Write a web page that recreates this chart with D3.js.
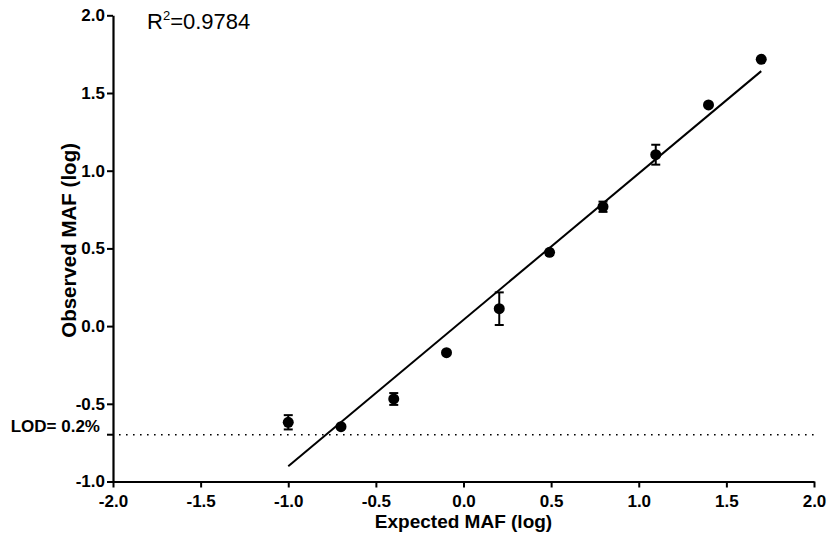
<!DOCTYPE html>
<html>
<head>
<meta charset="utf-8">
<script src="https://cdn.jsdelivr.net/npm/d3@7"></script>
<style>
  html, body { margin: 0; padding: 0; background: #fff; }
  svg { display: block; }
  text { font-family: "Liberation Sans", Arial, Helvetica, sans-serif; fill: #000; }
</style>
</head>
<body>
<svg id="chart" width="830" height="542"></svg>
<script>
// Expected vs. observed mutant allele fraction (log10 scale)
const expectedMAF = [-1.0, -0.699, -0.398, -0.097, 0.204, 0.491, 0.796, 1.097, 1.398, 1.699];
const observedMAF = [-0.619, -0.647, -0.469, -0.171, 0.112, 0.475, 0.768, 1.103, 1.423, 1.717];
const observedErr = [0.046, 0, 0.038, 0, 0.105, 0, 0.033, 0.064, 0, 0];

const xTicks = [-2.0, -1.5, -1.0, -0.5, 0.0, 0.5, 1.0, 1.5, 2.0];
const xTickLabels = ["-2.0", "-1.5", "-1.0", "-0.5", "0.0", "0.5", "1.0", "1.5", "2.0"];
const yTicks = [-1.0, -0.5, 0.0, 0.5, 1.0, 1.5, 2.0];
const yTickLabels = ["-1.0", "-0.5", "0.0", "0.5", "1.0", "1.5", "2.0"];

const lodValue = Math.log10(0.2);   // limit of detection, 0.2 %
const lodLabel = "LOD= 0.2%";
const r2Value = "0.9784";

const svg = d3.select("#chart");

const x = d3.scaleLinear().domain([-2, 2]).range([113, 814]);
const y = d3.scaleLinear().domain([-1, 2]).range([481.5, 15.3]);

// least-squares fit through the points
const mx = d3.mean(expectedMAF), my = d3.mean(observedMAF);
let sxy = 0, sxx = 0;
expectedMAF.forEach((v, i) => { sxy += (v - mx) * (observedMAF[i] - my); sxx += (v - mx) * (v - mx); });
const slope = sxy / sxx, intercept = my - slope * mx;
const fitX = d3.extent(expectedMAF);

// LOD dotted line
svg.append("line")
  .attr("x1", x(-2) + 6).attr("x2", x(2))
  .attr("y1", y(lodValue)).attr("y2", y(lodValue))
  .attr("stroke", "#000").attr("stroke-width", 1.6)
  .attr("stroke-dasharray", "1.6,5.4");

// regression line
svg.append("line")
  .attr("x1", x(fitX[0])).attr("y1", y(slope * fitX[0] + intercept))
  .attr("x2", x(fitX[1])).attr("y2", y(slope * fitX[1] + intercept))
  .attr("stroke", "#000").attr("stroke-width", 2);

// axes
const xAxis = d3.axisBottom(x).tickValues(xTicks)
  .tickFormat((d, i) => xTickLabels[i]).tickSize(6).tickSizeOuter(0);
const yAxis = d3.axisLeft(y).tickValues(yTicks)
  .tickFormat((d, i) => yTickLabels[i]).tickSize(6).tickSizeOuter(0);

const gx = svg.append("g").attr("transform", `translate(0,${y(-1)})`).call(xAxis);
const gy = svg.append("g").attr("transform", `translate(${x(-2)},0)`).call(yAxis);

[gx, gy].forEach(g => {
  g.select(".domain").attr("stroke", "#000").attr("stroke-width", 2.2);
  g.selectAll(".tick line").attr("stroke", "#000").attr("stroke-width", 2);
  g.selectAll(".tick text")
    .attr("font-family", "'Liberation Sans', Arial, sans-serif")
    .attr("font-size", 17).attr("font-weight", "bold").attr("fill", "#000");
});
gx.selectAll(".tick text").attr("dy", "0.9em").attr("y", 10);
gy.selectAll(".tick text").attr("x", -8);

// LOD tick and label on the y axis
svg.append("line")
  .attr("x1", x(-2) - 6).attr("x2", x(-2))
  .attr("y1", y(lodValue)).attr("y2", y(lodValue))
  .attr("stroke", "#000").attr("stroke-width", 2);
svg.append("text")
  .attr("x", x(-2) - 13).attr("y", y(lodValue) - 3)
  .attr("text-anchor", "end")
  .attr("font-size", 17).attr("font-weight", "bold")
  .text(lodLabel);

// error bars
const pts = expectedMAF.map((v, i) => ({ x: v, y: observedMAF[i], e: observedErr[i] }));
const eb = svg.append("g").selectAll("g").data(pts.filter(d => d.e > 0)).join("g")
  .attr("stroke", "#000").attr("stroke-width", 2);
eb.append("line")
  .attr("x1", d => x(d.x)).attr("x2", d => x(d.x))
  .attr("y1", d => y(d.y - d.e)).attr("y2", d => y(d.y + d.e));
eb.append("line")
  .attr("x1", d => x(d.x) - 4.5).attr("x2", d => x(d.x) + 4.5)
  .attr("y1", d => y(d.y + d.e)).attr("y2", d => y(d.y + d.e));
eb.append("line")
  .attr("x1", d => x(d.x) - 4.5).attr("x2", d => x(d.x) + 4.5)
  .attr("y1", d => y(d.y - d.e)).attr("y2", d => y(d.y - d.e));

// points
svg.append("g").selectAll("circle").data(pts).join("circle")
  .attr("cx", d => x(d.x)).attr("cy", d => y(d.y))
  .attr("r", 5.5).attr("fill", "#000");

// axis titles
svg.append("text")
  .attr("x", (x(-2) + x(2)) / 2).attr("y", 528)
  .attr("text-anchor", "middle")
  .attr("font-size", 19).attr("font-weight", "bold")
  .text("Expected MAF (log)");
svg.append("text")
  .attr("transform", `translate(76,${(y(-1) + y(2)) / 2 - 8}) rotate(-90)`)
  .attr("text-anchor", "middle")
  .attr("font-size", 20.5).attr("font-weight", "bold")
  .text("Observed MAF (log)");

// R squared
const r2 = svg.append("text").attr("x", 147).attr("y", 29).attr("font-size", 22);
r2.append("tspan").text("R");
r2.append("tspan").attr("dy", -9).attr("font-size", 13).text("2");
r2.append("tspan").attr("dy", 9).text("=" + r2Value);
</script>
</body>
</html>
